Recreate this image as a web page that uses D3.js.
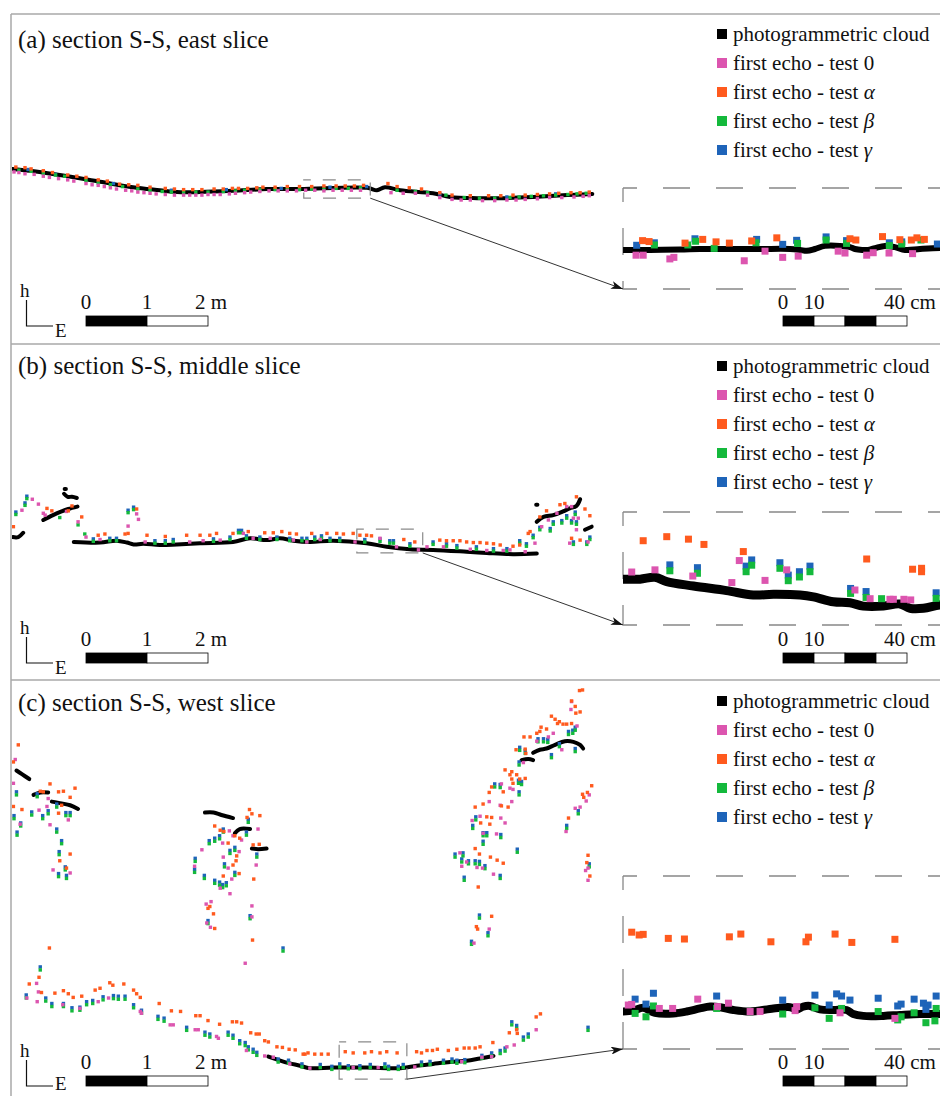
<!DOCTYPE html>
<html>
<head>
<meta charset="utf-8">
<script src="https://cdn.jsdelivr.net/npm/d3@7/dist/d3.min.js"></script>
<style>
  body { margin: 0; background: #fff; }
  text { font-family: "Liberation Serif", serif; fill: #111; }
</style>
</head>
<body>
<svg id="fig" width="940" height="1096"></svg>
<script>
// ---- data: main profiles in metres [E, h], zoom windows in centimetres [E, h] ----
var legendNames = ["photogrammetric cloud", "first echo - test ", "first echo - test ", "first echo - test ", "first echo - test "];
var legendSymbols = ["", "0", "\u03b1", "\u03b2", "\u03b3"];
var mainBarTicks = [0, 1, 2];
var mainBarLabels = ["0", "1", "2 m"];
var zoomBarTicks = [0, 10, 20, 30, 40];
var zoomBarLabelTicks = [0, 10, 40];
var zoomBarLabels = ["0", "10", "40 cm"];

// (a) east slice
var eastCloud = [[[-1.21,0.51],[-0.92,0.48],[-0.43,0.41],[0.23,0.30],[0.77,0.21],[1.21,0.16],[1.49,0.13],[1.87,0.13],[2.41,0.15],[2.97,0.18],[3.51,0.18],[4.61,0.20],[4.77,0.16],[4.90,0.21],[5.15,0.16],[5.69,0.11],[5.97,0.05],[6.41,0.03],[6.79,0.03],[7.33,0.05],[7.89,0.08],[8.30,0.10]]];
var eastTest0 = [[-1.18,0.46],[-1.1,0.45],[-1.0,0.43],[-0.85,0.42],[-0.7,0.39],[-0.6,0.37],[-0.45,0.35],[-0.3,0.33],[-0.2,0.31],[0.0,0.27],[0.1,0.25],[0.2,0.24],[0.3,0.22],[0.4,0.20],[0.5,0.18],[0.65,0.16],[0.75,0.15],[0.85,0.13],[0.95,0.12],[1.05,0.11],[1.15,0.10],[1.3,0.09],[1.45,0.08],[1.6,0.08],[1.7,0.08],[1.8,0.08],[1.9,0.08],[2.0,0.09],[2.1,0.09],[2.2,0.09],[2.35,0.10],[2.45,0.11],[2.6,0.12],[2.7,0.13],[2.85,0.14],[3.0,0.15],[3.15,0.15],[3.3,0.15],[3.45,0.15],[3.6,0.16],[3.75,0.16],[3.9,0.15],[4.05,0.16],[4.2,0.16],[4.35,0.16],[4.5,0.16],[5.0,0.12],[5.2,0.11],[5.4,0.11],[5.6,0.08],[5.8,0.04],[6.0,0.01],[6.15,0.00],[6.3,0.00],[6.5,-0.01],[6.7,-0.01],[6.9,0.00],[7.05,0.00],[7.2,0.01],[7.4,0.02],[7.6,0.04],[7.8,0.04],[8.0,0.05],[8.15,0.06],[8.25,0.07]];
var eastTestAlpha = [[-1.15,0.54],[-1.0,0.53],[-0.9,0.51],[-0.7,0.48],[-0.55,0.45],[-0.3,0.41],[-0.15,0.39],[0.0,0.37],[0.2,0.33],[0.35,0.31],[0.55,0.26],[0.7,0.25],[0.85,0.24],[1.05,0.21],[1.3,0.19],[1.45,0.18],[1.6,0.17],[1.75,0.17],[1.9,0.17],[2.1,0.18],[2.25,0.18],[2.4,0.19],[2.5,0.19],[2.65,0.19],[2.8,0.20],[2.9,0.21],[3.1,0.21],[3.3,0.22],[3.5,0.22],[3.7,0.22],[3.9,0.23],[4.1,0.23],[4.25,0.23],[4.4,0.23],[4.55,0.24],[4.95,0.27],[5.1,0.22],[5.3,0.20],[5.5,0.18],[5.8,0.12],[6.0,0.08],[6.3,0.07],[6.6,0.07],[6.8,0.07],[7.0,0.08],[7.2,0.08],[7.4,0.09],[7.6,0.10],[7.75,0.11],[7.95,0.12],[8.1,0.12],[8.25,0.13]];
var eastTestBeta = [[-1.1,0.49],[-0.9,0.47],[-0.7,0.44],[-0.5,0.41],[-0.35,0.39],[0.0,0.32],[0.2,0.28],[0.4,0.25],[0.6,0.22],[0.85,0.18],[1.05,0.16],[1.25,0.14],[1.4,0.13],[1.6,0.13],[1.8,0.13],[2.0,0.13],[2.25,0.14],[2.45,0.15],[2.6,0.16],[2.85,0.17],[3.1,0.17],[3.3,0.18],[3.5,0.17],[3.7,0.18],[3.9,0.18],[4.1,0.19],[4.3,0.19],[4.5,0.20],[5.1,0.16],[5.4,0.14],[5.6,0.12],[5.9,0.08],[6.2,0.04],[6.45,0.03],[6.7,0.03],[6.95,0.04],[7.1,0.05],[7.3,0.06],[7.5,0.07],[7.7,0.08],[7.9,0.09],[8.05,0.10],[8.2,0.11]];
var eastTestGamma = [[-0.95,0.50],[-0.5,0.42],[0.45,0.27],[1.4,0.16],[2.3,0.17],[3.2,0.19],[4.0,0.21],[4.6,0.22],[5.8,0.10],[6.9,0.05],[7.7,0.10]];
var eastWindow = [[3.57,0.33],[4.66,0.03]];
var eastZoomCloud = [[-51.6,-0.3],[-42.9,-0.3],[-33.2,-0.2],[-26.8,0],[-17.1,0],[-7.4,0],[2.3,0],[5.5,-0.3],[7.7,-0.6],[10.3,0],[13.5,1.0],[18.4,1.0],[21.6,0.6],[23.2,0],[25.5,-0.3],[27.4,-0.3],[29.7,0.3],[32.9,1.0],[36.1,0.6],[39.4,-0.3],[44.2,0],[50.6,0.3],[56,0.3]];
var eastZoomTest0 = [[-47.4,-2.0],[-45.1,-2.0],[-36.5,-3.2],[-35.2,-2.7],[-12.5,-3.8],[-5.8,-0.7],[-0.1,-2.7],[4.9,-2.3],[17.8,-0.7],[20.0,-1.3],[27.0,-2.0],[29.1,-1.2],[34.2,-1.3],[41.8,-1.5]];
var eastZoomTestAlpha = [[-45.3,2.7],[-43.2,2.4],[-31.6,1.9],[-25.9,3.1],[-21.6,2.3],[-17.3,1.9],[-10.1,2.6],[-2.0,3.6],[21.6,3.3],[23.5,2.9],[32.1,4.0],[37.7,3.0],[41.4,2.9],[43.2,3.6],[45.6,3.1]];
var eastZoomTestBeta = [[-41.5,1.3],[-30.7,1.3],[-28.2,2.5],[-22.2,0.2],[-8.7,2.0],[4.7,1.8],[13.9,2.9],[20.5,1.8],[34.3,1.1],[38.3,1.6],[44.5,2.9]];
var eastZoomTestGamma = [[-47.2,1.2],[-41.5,2.0],[-28.4,3.3],[-8.5,3.1],[-0.1,1.5],[4.4,2.8],[13.9,3.9],[20.5,2.7],[34.3,2.0],[38.3,2.3],[49.8,1.6]];

// (b) middle slice
var middleCloud = [
  [[-1.20,0.13],[-1.11,0.13],[-1.03,0.20]],
  [[-0.70,0.41],[-0.54,0.49],[-0.40,0.55],[-0.29,0.59],[-0.14,0.63]],
  [[-0.36,0.84],[-0.30,0.79],[-0.23,0.79],[-0.15,0.77]],
  [[-0.35,0.92],[-0.33,0.92]],
  [[-0.20,0.05],[0.23,0.04],[0.50,0.07],[0.67,0.04],[0.78,0.01],[0.94,0.02],[1.21,0.00],[1.49,0.01],[1.87,0.03],[2.41,0.05],[2.69,0.11],[2.96,0.08],[3.18,0.11],[3.40,0.07],[3.67,0.05],[4.05,0.07],[4.60,0.03],[4.93,-0.03],[5.31,-0.07],[5.69,-0.08],[6.24,-0.11],[6.57,-0.13],[7.00,-0.15],[7.39,-0.14]],
  [[7.39,0.38],[7.50,0.46],[7.66,0.49],[7.82,0.55],[7.93,0.60],[8.04,0.64],[8.10,0.75]],
  [[7.38,0.66],[7.40,0.66]],
  [[8.18,0.25],[8.29,0.30]]
];
var middleTest0 = [[-1.05,0.57],[-0.88,0.75],[-0.78,0.67],[-0.70,0.52],[-0.67,0.49],[-0.32,0.55],[-0.13,0.38],[0.83,0.51],[0.86,0.42],[0.69,0.31],[0.00,0.13],[0.23,0.09],[0.97,0.05],[1.70,0.05],[1.92,0.07],[2.20,0.08],[2.58,0.19],[2.74,0.11],[3.02,0.11],[3.40,0.08],[3.62,0.05],[3.84,0.09],[4.41,0.05],[4.82,0.11],[5.09,-0.03],[5.45,-0.08],[5.59,-0.03],[5.86,-0.03],[6.30,-0.07],[6.57,-0.09],[6.84,-0.09],[6.95,-0.08],[7.20,-0.11],[7.36,0.03],[7.47,0.30],[7.58,0.41],[7.72,0.52],[7.88,0.63],[7.96,0.63],[7.99,0.44],[8.04,0.25],[7.93,0.03],[8.07,0.44],[8.23,0.05]];
var middleTestAlpha = [[-1.19,0.30],[-0.64,0.60],[-0.56,0.56],[-0.23,0.64],[-0.29,0.56],[-0.07,0.46],[0.69,0.19],[0.64,0.18],[0.83,0.59],[0.20,0.16],[0.31,0.18],[1.00,0.16],[1.30,0.14],[1.65,0.16],[1.87,0.16],[2.03,0.16],[2.14,0.19],[2.41,0.19],[2.66,0.22],[2.93,0.20],[3.07,0.20],[3.21,0.22],[3.34,0.19],[3.45,0.18],[3.70,0.19],[3.95,0.19],[4.11,0.19],[4.22,0.18],[4.38,0.19],[4.49,0.16],[4.60,0.16],[4.68,0.15],[5.21,0.09],[5.39,0.05],[5.80,0.08],[5.91,0.07],[6.02,0.07],[6.13,0.07],[6.24,0.05],[6.35,0.04],[6.46,0.04],[6.57,0.03],[6.68,0.02],[6.79,0.00],[7.00,-0.02],[7.11,0.00],[7.25,0.19],[7.28,0.22],[7.44,0.46],[7.55,0.56],[7.77,0.66],[7.85,0.68],[8.04,0.79],[8.18,0.59],[8.26,0.48],[7.96,0.11],[8.10,0.08]];
var middleTestBeta = [[-1.15,0.50],[-0.97,0.76],[-1.00,0.65],[0.69,0.53],[0.78,0.58],[0.12,0.06],[0.39,0.07],[0.50,0.07],[1.13,0.03],[1.30,0.03],[1.43,0.05],[2.09,0.06],[2.36,0.09],[2.50,0.20],[2.55,0.20],[2.63,0.11],[2.85,0.09],[3.13,0.09],[3.34,0.07],[3.54,0.07],[3.62,0.07],[3.75,0.09],[3.86,0.11],[4.00,0.07],[4.16,0.07],[4.57,0.05],[4.82,0.06],[4.98,0.03],[5.04,0.03],[5.31,-0.02],[5.69,0.01],[5.91,-0.02],[6.08,-0.05],[6.40,-0.07],[6.68,-0.10],[6.90,-0.10],[7.11,0.03],[7.22,-0.02],[7.33,0.12],[7.44,0.25],[7.61,0.23],[7.66,0.34],[7.80,0.36],[7.88,0.44],[7.96,0.36],[8.04,0.34],[7.99,0.01],[8.21,0.01],[8.26,0.09],[8.02,0.50],[-0.43,0.45],[-0.13,0.33],[-0.02,0.18]];
var middleTestGamma = [[-1.15,0.54],[-0.97,0.80],[-1.00,0.69],[0.69,0.57],[0.78,0.62],[0.12,0.10],[0.39,0.11],[0.50,0.11],[1.13,0.07],[1.30,0.07],[1.43,0.09],[2.09,0.10],[2.36,0.13],[2.50,0.24],[2.55,0.24],[2.63,0.15],[2.85,0.13],[3.13,0.13],[3.34,0.11],[3.54,0.11],[3.62,0.11],[3.75,0.13],[3.86,0.15],[4.00,0.11],[4.16,0.11],[4.57,0.09],[4.82,0.10],[4.98,0.07],[5.04,0.07],[5.31,0.02],[5.69,0.05],[5.91,0.02],[6.08,-0.01],[6.40,-0.03],[6.68,-0.06],[6.90,-0.06],[7.11,0.07],[7.22,0.02],[7.33,0.16],[7.44,0.29],[7.61,0.27],[7.66,0.38],[7.80,0.40],[7.88,0.48],[7.96,0.40],[8.04,0.38],[7.99,0.05],[8.21,0.05],[8.26,0.13],[8.02,0.54]];
var middleWindow = [[4.44,0.26],[5.52,-0.13]];
var middleZoomCloud = [[-51.7,3.5],[-46.1,3.5],[-41.3,4.1],[-37.5,2.7],[-28.9,1.3],[-18.2,-0.2],[-9.6,-1.6],[-3.1,-1.4],[5.5,-1.6],[9.8,-2.2],[16.2,-3.8],[21.6,-4.1],[25.9,-5.2],[32.4,-5.2],[37.7,-4.5],[41.0,-5.9],[45.3,-5.9],[50.6,-4.8],[56,-4.6]];
var middleZoomTest0 = [[-48.8,5.8],[-41.3,6.5],[-29.1,4.5],[-16.5,2.4],[-14.1,9.5],[-5.8,3.1],[1.2,6.5],[23.2,0.0],[28.1,-2.8],[34.5,-3.0],[35.6,-3.0],[39.0,-3.0],[41.2,-3.2]];
var middleZoomTestAlpha = [[-45.1,15.9],[-37.5,17.2],[-30.5,16.4],[-25.5,14.7],[-12.8,12.4],[27.0,10.0],[41.8,6.7],[44.7,7.0],[44.7,5.9]];
var middleZoomTestBeta = [[-36.5,6.2],[-27.6,5.4],[-11.9,5.9],[-10.1,8.0],[-1.0,7.0],[1.7,3.0],[5.3,4.2],[8.7,5.9],[21.8,-1.1],[26.8,-2.4],[31.8,-2.8],[49.4,-2.7]];
var middleZoomTestGamma = [[-36.5,8.1],[-27.6,7.2],[-11.9,7.7],[-10.1,9.7],[-1.0,8.8],[1.7,4.8],[5.3,5.9],[8.7,7.7],[21.8,0.5],[26.8,-0.5],[49.4,-0.9]];

// (c) west slice
var westCloud = [
  [[-1.14,4.91],[-1.05,4.85],[-0.93,4.77]],
  [[-0.86,4.51],[-0.75,4.55],[-0.62,4.55]],
  [[-0.56,4.40],[-0.40,4.37],[-0.26,4.34],[-0.13,4.28]],
  [[1.95,4.22],[2.09,4.22],[2.22,4.18],[2.41,4.13]],
  [[2.44,3.88],[2.52,3.95],[2.69,3.95]],
  [[2.72,3.63],[2.82,3.62],[2.96,3.63]],
  [[7.14,5.08],[7.25,5.10],[7.33,5.08]],
  [[7.33,5.20],[7.44,5.25],[7.55,5.27],[7.69,5.33],[7.85,5.39],[7.99,5.38],[8.10,5.33],[8.15,5.27]],
  [[2.99,0.22],[3.26,0.13],[3.51,0.07],[3.67,0.03],[4.05,0.04],[4.60,0.04],[5.15,0.03],[5.42,0.07],[5.69,0.10],[5.97,0.13],[6.24,0.15],[6.46,0.19],[6.68,0.23]]
];
var westTest0 = [[-1.16,5.09],[-1.19,4.70],[-1.08,4.03],[-0.59,4.02],[-0.77,4.26],[-0.62,4.45],[-0.29,4.10],[-0.54,3.28],[-0.26,3.23],[-0.64,4.32],
  [2.35,3.92],[2.41,3.84],[2.55,3.77],[2.82,3.95],[2.24,3.72],[2.25,3.49],[2.51,3.58],[1.90,3.61],[2.33,3.31],[2.39,3.13],[2.20,2.98],[2.36,2.89],[1.78,3.34],[2.05,2.76],[1.97,2.72],[2.79,3.36],[2.72,2.69],[1.98,2.41],[2.04,2.34],[2.72,2.51],[2.61,1.75],
  [7.96,6.04],[8.05,5.64],[7.95,5.91],[7.66,5.52],[7.58,5.46],[7.80,5.25],[7.39,5.39],[7.17,5.04],[6.81,4.69],[6.95,4.62],[7.00,4.60],[6.98,4.40],[6.61,4.40],[6.79,4.34],[6.46,4.16],[6.80,4.13],[6.87,4.05],[6.51,3.88],[6.73,3.87],[6.33,4.09],[6.13,3.56],[6.16,3.34],[6.24,3.41],[6.41,3.32],[6.50,3.31],[6.68,3.21],[6.61,2.31],[6.36,2.08],[8.25,4.51],[8.20,4.41],[8.10,4.31],[8.02,4.29],[7.87,3.91],[8.23,3.31],[8.19,3.27],[8.23,3.11],
  [-0.81,1.42],[-0.78,1.28],[-0.80,1.12],[-0.38,1.07],[-0.10,1.01],[0.20,1.12],[0.37,1.18],[0.89,0.96],[0.91,0.93],[1.38,0.74],[1.43,0.74],[1.79,0.66],[1.84,0.66],[2.14,0.55],[2.17,0.52],[2.63,0.32],[2.93,0.23],[3.07,0.21],[3.34,0.10],[-0.97,1.18],
  [3.67,0.03],[4.38,0.04],[4.79,0.04],[5.39,0.05],[6.16,0.14],[6.49,0.21],[6.65,0.22],[6.90,0.38],[7.02,0.41],[7.38,0.66]];
var westTestAlpha = [[-1.11,5.33],[-1.19,5.05],[-1.19,4.32],[-1.05,4.27],[-0.75,4.57],[-0.59,4.69],[-0.45,4.56],[-0.37,4.57],[-0.18,4.62],[-0.26,4.47],[-0.45,4.21],[-0.26,3.54],[-0.43,3.43],[-0.32,3.31],[-0.70,4.56],[-0.40,4.34],
  [2.68,4.27],[2.72,4.20],[2.85,4.17],[2.64,4.14],[2.11,4.00],[2.20,3.93],[2.26,3.91],[2.44,3.84],[2.52,3.80],[2.33,3.72],[2.74,3.69],[2.84,3.70],[2.47,3.51],[2.46,3.43],[2.41,3.36],[2.51,3.22],[2.25,3.18],[2.75,3.13],[2.03,2.68],[2.00,2.65],[2.09,2.56],[2.11,2.32],[2.73,2.13],
  [8.09,6.22],[8.14,6.23],[7.96,6.05],[8.02,5.96],[8.03,5.85],[8.10,5.87],[7.63,5.80],[7.69,5.75],[7.73,5.68],[7.76,5.71],[7.82,5.67],[7.88,5.67],[7.96,5.68],[7.46,5.62],[7.55,5.59],[7.44,5.55],[7.39,5.52],[7.28,5.46],[7.18,5.46],[7.05,5.25],[7.20,5.26],[7.21,5.19],[6.87,4.92],[6.98,4.89],[6.95,4.84],[7.06,4.84],[6.98,4.77],[7.11,4.77],[7.20,4.78],[7.00,4.70],[6.65,4.64],[6.84,4.56],[6.61,4.55],[6.51,4.36],[6.38,4.31],[6.65,4.14],[6.57,4.15],[6.47,4.05],[6.62,4.03],[6.81,4.33],[6.92,4.31],[6.38,3.63],[6.45,3.54],[6.63,3.49],[6.74,3.44],[6.84,3.39],[6.43,3.00],[6.65,2.52],[6.40,2.35],[6.42,2.31],[8.29,4.66],[8.22,4.55],[8.14,4.52],[8.16,4.47],[7.91,4.13],[8.23,3.52],[8.21,3.40],[8.26,3.18],
  [-0.60,2.00],[-0.93,1.41],[-0.73,1.27],[-0.77,1.52],[-0.51,1.26],[-0.37,1.30],[-0.29,1.25],[-0.21,1.19],[-0.07,1.21],[0.15,1.31],[0.23,1.34],[0.39,1.43],[0.44,1.39],[0.62,1.41],[0.78,1.31],[0.83,1.25],[0.89,1.19],[1.20,1.09],[1.40,0.97],[1.55,0.96],[1.80,0.89],[1.87,0.89],[2.00,0.81],[2.19,0.75],[2.40,0.79],[2.47,0.79],[2.55,0.77],[2.70,0.61],[2.79,0.59],[2.84,0.59],[2.93,0.48],[2.99,0.46],[3.13,0.38],[3.22,0.37],[3.33,0.34],[3.43,0.33],[3.59,0.26],
  [3.56,0.26],[3.64,0.28],[3.75,0.26],[3.86,0.26],[3.97,0.26],[4.25,0.30],[4.38,0.28],[4.57,0.28],[4.68,0.30],[4.82,0.28],[4.93,0.30],[5.10,0.28],[5.42,0.30],[5.50,0.28],[5.59,0.32],[5.68,0.32],[5.76,0.34],[5.94,0.32],[6.08,0.34],[6.20,0.36],[6.28,0.36],[6.38,0.36],[6.46,0.38],[6.67,0.45],[6.94,0.61],[7.06,0.66],[7.07,0.60],[7.38,0.87],[7.45,0.92]];
var westTestBeta = [[-1.14,4.51],[-1.18,4.12],[-1.07,4.00],[-1.13,3.85],[-0.89,4.18],[-0.71,4.12],[-0.62,4.20],[-0.48,4.31],[-0.48,3.90],[-0.40,3.71],[-0.44,3.53],[-0.34,3.28],[-0.45,3.17],[-0.32,3.14],[-0.26,4.17],[-0.33,4.17],[-0.80,4.48],
  [1.79,3.42],[1.78,3.24],[1.94,3.14],[2.02,3.71],[2.11,3.75],[2.19,3.79],[2.25,3.90],[2.36,3.55],[2.44,3.60],[2.66,4.06],[2.63,3.85],[2.80,3.49],[2.44,3.19],[2.11,3.06],[2.19,3.03],[2.24,2.99],[2.30,3.02],[2.00,2.40],[2.69,2.48],[3.23,1.95],[2.27,3.33],
  [7.41,5.38],[7.50,5.38],[7.57,5.37],[7.91,5.50],[7.98,5.52],[8.02,5.57],[7.76,5.30],[8.02,5.22],[7.63,5.12],[7.11,5.24],[7.20,5.19],[7.10,5.00],[7.14,4.68],[7.09,4.70],[7.10,4.51],[6.70,4.64],[6.79,4.63],[6.39,4.10],[6.34,3.96],[6.51,3.84],[6.57,3.84],[6.80,3.81],[6.51,3.70],[7.07,3.57],[6.05,3.49],[6.18,3.51],[6.16,3.41],[6.27,3.38],[6.38,3.38],[6.45,3.37],[6.54,3.30],[6.20,3.11],[6.79,3.14],[6.45,2.49],[6.59,2.20],[6.32,2.06],[8.07,4.20],[7.88,3.96],[8.25,3.33],
  [-0.75,1.64],[-0.98,1.18],[-0.66,1.13],[-0.56,1.04],[-0.37,1.04],[-0.23,0.97],[-0.10,0.98],[0.01,1.07],[0.11,1.09],[0.28,1.15],[0.45,1.17],[0.53,1.16],[0.64,1.16],[0.78,1.02],[0.91,0.93],[1.18,0.83],[1.28,0.80],[1.65,0.65],[1.95,0.57],[2.03,0.54],[2.33,0.57],[2.41,0.52],[2.52,0.43],[2.61,0.40],[2.66,0.33],[2.74,0.29],[2.80,0.24],[3.15,0.13],[3.32,0.11],[3.54,0.05],
  [3.84,0.04],[4.03,0.01],[4.16,0.05],[4.30,0.02],[4.49,0.02],[4.66,0.04],[4.90,0.05],[4.96,0.01],[5.12,0.01],[5.20,0.04],[5.50,0.08],[5.64,0.09],[5.86,0.11],[6.00,0.13],[6.08,0.11],[6.21,0.12],[6.49,0.19],[6.65,0.23],[6.79,0.27],[6.87,0.31],[6.98,0.74],[7.06,0.68],[7.17,0.49],[7.25,0.54],[8.23,0.65]];
var westTestGamma = [[-1.14,4.56],[-1.18,4.17],[-1.07,4.05],[-1.13,3.90],[-0.89,4.23],[-0.71,4.17],[-0.62,4.25],[-0.48,4.36],[-0.48,3.95],[-0.40,3.76],[-0.44,3.58],[-0.34,3.33],[-0.45,3.22],[-0.32,3.19],[-0.26,4.22],[-0.33,4.22],[-0.80,4.53],
  [1.79,3.47],[1.78,3.29],[1.94,3.19],[2.02,3.76],[2.11,3.80],[2.19,3.84],[2.25,3.95],[2.36,3.60],[2.44,3.65],[2.66,4.11],[2.63,3.90],[2.80,3.54],[2.44,3.24],[2.11,3.11],[2.19,3.08],[2.24,3.04],[2.30,3.07],[2.00,2.45],[2.69,2.53],[3.23,2.00],[2.27,3.38],
  [7.41,5.43],[7.50,5.43],[7.57,5.42],[7.91,5.55],[7.98,5.57],[8.02,5.62],[7.76,5.35],[8.02,5.27],[7.63,5.17],[7.11,5.29],[7.20,5.24],[7.10,5.05],[7.14,4.73],[7.09,4.75],[7.10,4.56],[6.70,4.69],[6.79,4.68],[6.39,4.15],[6.34,4.01],[6.51,3.89],[6.57,3.89],[6.80,3.86],[6.51,3.75],[7.07,3.62],[6.05,3.54],[6.18,3.56],[6.16,3.46],[6.27,3.43],[6.38,3.43],[6.45,3.42],[6.54,3.35],[6.20,3.16],[6.79,3.19],[6.45,2.54],[6.59,2.25],[6.32,2.11],[8.07,4.25],[7.88,4.01],[8.25,3.38],
  [-0.75,1.69],[-0.98,1.23],[-0.66,1.18],[-0.56,1.09],[-0.37,1.09],[-0.23,1.02],[-0.10,1.03],[0.01,1.12],[0.11,1.14],[0.28,1.20],[0.45,1.22],[0.53,1.21],[0.64,1.21],[0.78,1.07],[0.91,0.98],[1.18,0.88],[1.28,0.85],[1.65,0.70],[1.95,0.62],[2.03,0.59],[2.33,0.62],[2.41,0.57],[2.52,0.48],[2.61,0.45],[2.66,0.38],[2.74,0.34],[2.80,0.29],[3.15,0.18],[3.32,0.16],[3.54,0.10],
  [3.84,0.09],[4.03,0.06],[4.16,0.10],[4.30,0.07],[4.49,0.07],[4.66,0.09],[4.90,0.10],[4.96,0.06],[5.12,0.06],[5.20,0.09],[5.50,0.13],[5.64,0.14],[5.86,0.16],[6.00,0.18],[6.08,0.16],[6.21,0.17],[6.49,0.24],[6.65,0.28],[6.79,0.32],[6.87,0.36],[6.98,0.79],[7.06,0.73],[7.17,0.54],[7.25,0.59],[8.23,0.70]];
var westWindow = [[4.15,0.46],[5.26,-0.15]];
var westZoomCloud = [[-51.7,-0.5],[-48.3,-0.2],[-45.1,0.7],[-41.3,-0.9],[-35.4,-1.1],[-31.1,-0.5],[-26.8,0.5],[-23.5,1.1],[-20.3,0.9],[-16.0,0.0],[-10.6,-0.5],[-3.1,0.5],[2.3,0.9],[4.4,0.2],[6.5,1.1],[8.7,1.3],[11.9,0.2],[16.2,0.0],[20.5,0.0],[22.7,-1.3],[25.9,-1.9],[32.4,-1.9],[37.7,-1.6],[44.2,-1.3],[50.6,-1.3],[56,-1.3]];
var westZoomTest0 = [[-49.9,1.6],[-48.8,1.8],[-39.9,0.5],[-35.6,0.5],[-27.5,3.5],[-21.1,1.1],[-17.6,2.2],[-10.6,-0.5],[-7.4,-0.5],[3.9,-0.2],[4.4,1.1],[18.4,-0.9],[36.1,-2.7]];
var westZoomTestAlpha = [[-48.8,25.1],[-46.4,24.2],[-45.1,24.4],[-37.0,23.1],[-31.8,22.9],[-17.3,23.6],[-13.6,24.5],[-3.9,22.0],[7.4,22.0],[8.2,23.5],[16.8,24.5],[22.2,21.8],[36.1,22.8]];
var westZoomTestBeta = [[-47.7,-1.1],[-44.2,-2.2],[-41.8,1.3],[-21.4,0.5],[-0.1,-1.3],[10.3,0.7],[14.9,-2.7],[18.9,0.5],[30.7,-0.5],[37.0,-3.2],[38.1,-2.2],[42.3,-0.9],[46.1,-4.1],[49.0,-3.5],[49.4,0.5]];
var westZoomTestGamma = [[-47.7,3.5],[-44.2,1.9],[-41.8,5.4],[-21.4,4.5],[-0.1,3.2],[10.3,4.8],[14.9,1.6],[17.3,5.2],[18.9,4.5],[21.6,3.2],[30.7,3.8],[37.0,1.3],[38.1,1.9],[42.3,3.5],[45.3,2.2],[46.8,1.6],[49.4,4.5],[46.1,0.2]];

var seriesColors = ["#000000", "#dc55af", "#ff5a1e", "#14b93c", "#1e64b9"];

var svg = d3.select("#fig");
var defs = svg.append("defs");
defs.append("marker").attr("id", "arrow")
    .attr("viewBox", "0 0 12 8").attr("refX", 12).attr("refY", 4)
    .attr("markerWidth", 12).attr("markerHeight", 8).attr("markerUnits", "userSpaceOnUse")
    .attr("orient", "auto")
    .append("path").attr("d", "M0,0 L12,4 L0,8 L3,4 z").attr("fill", "#111");

// panel frame
var frameColor = "#a8a8a8";
svg.append("line").attr("x1", 11).attr("x2", 11).attr("y1", 14).attr("y2", 1096)
    .attr("stroke", frameColor).attr("stroke-width", 1.5);
[14, 344, 680].forEach(function(yy) {
    svg.append("line").attr("x1", 11).attr("x2", 940).attr("y1", yy).attr("y2", yy)
        .attr("stroke", frameColor).attr("stroke-width", 1.5);
});

var panels = [
    {id: "a", top: 14, bottom: 344, title: "(a) section S-S, east slice", titleY: 48, legendY: 34,
     base: 200, zoomBase: 249, zoomTop: 188, zoomBottom: 289, barY: 316, zoomStroke: 6,
     cloud: eastCloud, t0: eastTest0, ta: eastTestAlpha, tb: eastTestBeta, tg: eastTestGamma, win: eastWindow,
     zCloud: eastZoomCloud, z0: eastZoomTest0, za: eastZoomTestAlpha, zb: eastZoomTestBeta, zg: eastZoomTestGamma},
    {id: "b", top: 344, bottom: 680, title: "(b) section S-S, middle slice", titleY: 374, legendY: 366,
     base: 545, zoomBase: 590, zoomTop: 512, zoomBottom: 625, barY: 653, zoomStroke: 9,
     cloud: middleCloud, t0: middleTest0, ta: middleTestAlpha, tb: middleTestBeta, tg: middleTestGamma, win: middleWindow,
     zCloud: middleZoomCloud, z0: middleZoomTest0, za: middleZoomTestAlpha, zb: middleZoomTestBeta, zg: middleZoomTestGamma},
    {id: "c", top: 680, bottom: 1096, title: "(c) section S-S, west slice", titleY: 711, legendY: 701,
     base: 1070, zoomBase: 1010, zoomTop: 876, zoomBottom: 1049, barY: 1076, zoomStroke: 8,
     cloud: westCloud, t0: westTest0, ta: westTestAlpha, tb: westTestBeta, tg: westTestGamma, win: westWindow,
     zCloud: westZoomCloud, z0: westZoomTest0, za: westZoomTestAlpha, zb: westZoomTestBeta, zg: westZoomTestGamma}
];

function squares(g, data, x, y, size, color) {
    g.append("g").selectAll("rect").data(data).join("rect")
        .attr("x", function(d) { return x(d[0]) - size / 2; })
        .attr("y", function(d) { return y(d[1]) - size / 2; })
        .attr("width", size).attr("height", size)
        .attr("fill", color);
}

panels.forEach(function(p) {
    var g = svg.append("g").attr("class", "panel-" + p.id);
    var x = d3.scaleLinear().domain([0, 2]).range([86, 208]);
    var y = d3.scaleLinear().domain([0, 1]).range([p.base, p.base - 61]);
    var xz = d3.scaleLinear().domain([0, 40]).range([783, 907]);
    var yz = d3.scaleLinear().domain([0, 10]).range([p.zoomBase, p.zoomBase - 31]);

    defs.append("clipPath").attr("id", "clip-" + p.id).append("rect")
        .attr("x", 12).attr("y", p.top + 1).attr("width", 600).attr("height", p.bottom - p.top - 2);
    defs.append("clipPath").attr("id", "zclip-" + p.id).append("rect")
        .attr("x", 623).attr("y", p.zoomTop).attr("width", 330).attr("height", p.zoomBottom - p.zoomTop);

    // title
    g.append("text").attr("x", 18).attr("y", p.titleY).style("font-size", "25px").text(p.title);

    // legend
    var leg = g.append("g");
    legendNames.forEach(function(name, i) {
        var yy = p.legendY + i * 29;
        leg.append("rect").attr("x", 717).attr("y", yy - 5).attr("width", 10).attr("height", 10)
            .attr("fill", seriesColors[i]);
        var t = leg.append("text").attr("x", 733).attr("y", yy).attr("dy", "0.35em").style("font-size", "21px");
        t.append("tspan").text(name);
        if (legendSymbols[i] !== "") {
            t.append("tspan").text(legendSymbols[i])
                .style("font-style", i > 1 ? "italic" : "normal");
        }
    });

    // main profile
    var m = g.append("g").attr("clip-path", "url(#clip-" + p.id + ")");
    var line = d3.line().x(function(d) { return x(d[0]); }).y(function(d) { return y(d[1]); })
        .curve(d3.curveCatmullRom);
    m.selectAll("path.cloud").data(p.cloud).join("path").attr("class", "cloud")
        .attr("d", line).attr("fill", "none").attr("stroke", "#000")
        .attr("stroke-width", 4).attr("stroke-linecap", "round").attr("stroke-linejoin", "round");
    squares(m, p.tg, x, y, 3.4, seriesColors[4]);
    squares(m, p.tb, x, y, 3.4, seriesColors[3]);
    squares(m, p.t0, x, y, 3.4, seriesColors[1]);
    squares(m, p.ta, x, y, 3.4, seriesColors[2]);

    // zoom window in the profile
    var wx0 = x(p.win[0][0]), wx1 = x(p.win[1][0]), wy0 = y(p.win[0][1]), wy1 = y(p.win[1][1]);
    g.append("rect").attr("x", wx0).attr("y", wy0).attr("width", wx1 - wx0).attr("height", wy1 - wy0)
        .attr("fill", "none").attr("stroke", "#8a8a8a").attr("stroke-width", 1.2)
        .attr("stroke-dasharray", "13 12").attr("stroke-dashoffset", 6);

    // zoom panel frame (dashed)
    var zf = g.append("g").attr("stroke", "#888").attr("stroke-width", 1.3).attr("fill", "none")
        .attr("stroke-dasharray", "27 26").attr("stroke-dashoffset", 13);
    zf.append("line").attr("x1", 623).attr("x2", 960).attr("y1", p.zoomTop).attr("y2", p.zoomTop);
    zf.append("line").attr("x1", 623).attr("x2", 960).attr("y1", p.zoomBottom).attr("y2", p.zoomBottom);
    zf.append("line").attr("x1", 623).attr("x2", 623).attr("y1", p.zoomTop).attr("y2", p.zoomBottom);

    // zoomed content
    var z = g.append("g").attr("clip-path", "url(#zclip-" + p.id + ")");
    var zline = d3.line().x(function(d) { return xz(d[0]); }).y(function(d) { return yz(d[1]); })
        .curve(d3.curveCatmullRom);
    z.append("path").attr("d", zline(p.zCloud)).attr("fill", "none").attr("stroke", "#000")
        .attr("stroke-width", p.zoomStroke).attr("stroke-linejoin", "round");
    squares(z, p.zg, xz, yz, 7, seriesColors[4]);
    squares(z, p.zb, xz, yz, 7, seriesColors[3]);
    squares(z, p.z0, xz, yz, 7, seriesColors[1]);
    squares(z, p.za, xz, yz, 7, seriesColors[2]);

    // arrow from window to zoom panel
    g.append("line").attr("x1", wx1).attr("y1", wy1).attr("x2", 623).attr("y2", p.zoomBottom)
        .attr("stroke", "#333").attr("stroke-width", 1).attr("marker-end", "url(#arrow)");

    // h / E axes symbol
    var ax = g.append("g");
    ax.append("path").attr("d", "M26.5," + (p.barY - 16) + "V" + (p.barY + 10) + "H53")
        .attr("fill", "none").attr("stroke", "#111").attr("stroke-width", 1.2);
    ax.append("text").attr("x", 20).attr("y", p.barY - 19).style("font-size", "19px").text("h");
    ax.append("text").attr("x", 55).attr("y", Math.min(p.barY + 21, 1090)).style("font-size", "19px").text("E");

    // main scale bar
    var bar = g.append("g");
    bar.selectAll("rect").data(d3.pairs(mainBarTicks)).join("rect")
        .attr("x", function(d) { return x(d[0]); }).attr("y", p.barY)
        .attr("width", function(d) { return x(d[1]) - x(d[0]); }).attr("height", 10)
        .attr("fill", function(d, i) { return i % 2 === 0 ? "#000" : "#fff"; })
        .attr("stroke", "#000").attr("stroke-width", 0.8);
    bar.selectAll("text").data(mainBarTicks).join("text")
        .attr("x", function(d, i) { return x(d) + (i === mainBarTicks.length - 1 ? 3 : 0); })
        .attr("y", p.barY - 7).attr("text-anchor", "middle").style("font-size", "21px")
        .text(function(d, i) { return mainBarLabels[i]; });

    // zoom scale bar
    var zbar = g.append("g");
    zbar.selectAll("rect").data(d3.pairs(zoomBarTicks)).join("rect")
        .attr("x", function(d) { return xz(d[0]); }).attr("y", p.barY)
        .attr("width", function(d) { return xz(d[1]) - xz(d[0]); }).attr("height", 10)
        .attr("fill", function(d, i) { return i % 2 === 0 ? "#000" : "#fff"; })
        .attr("stroke", "#000").attr("stroke-width", 0.8);
    zbar.selectAll("text").data(zoomBarLabelTicks).join("text")
        .attr("x", function(d, i) { return xz(d) + (i === zoomBarLabelTicks.length - 1 ? 3 : 0); })
        .attr("y", p.barY - 7).attr("text-anchor", "middle").style("font-size", "21px")
        .text(function(d, i) { return zoomBarLabels[i]; });
});
</script>
</body>
</html>
